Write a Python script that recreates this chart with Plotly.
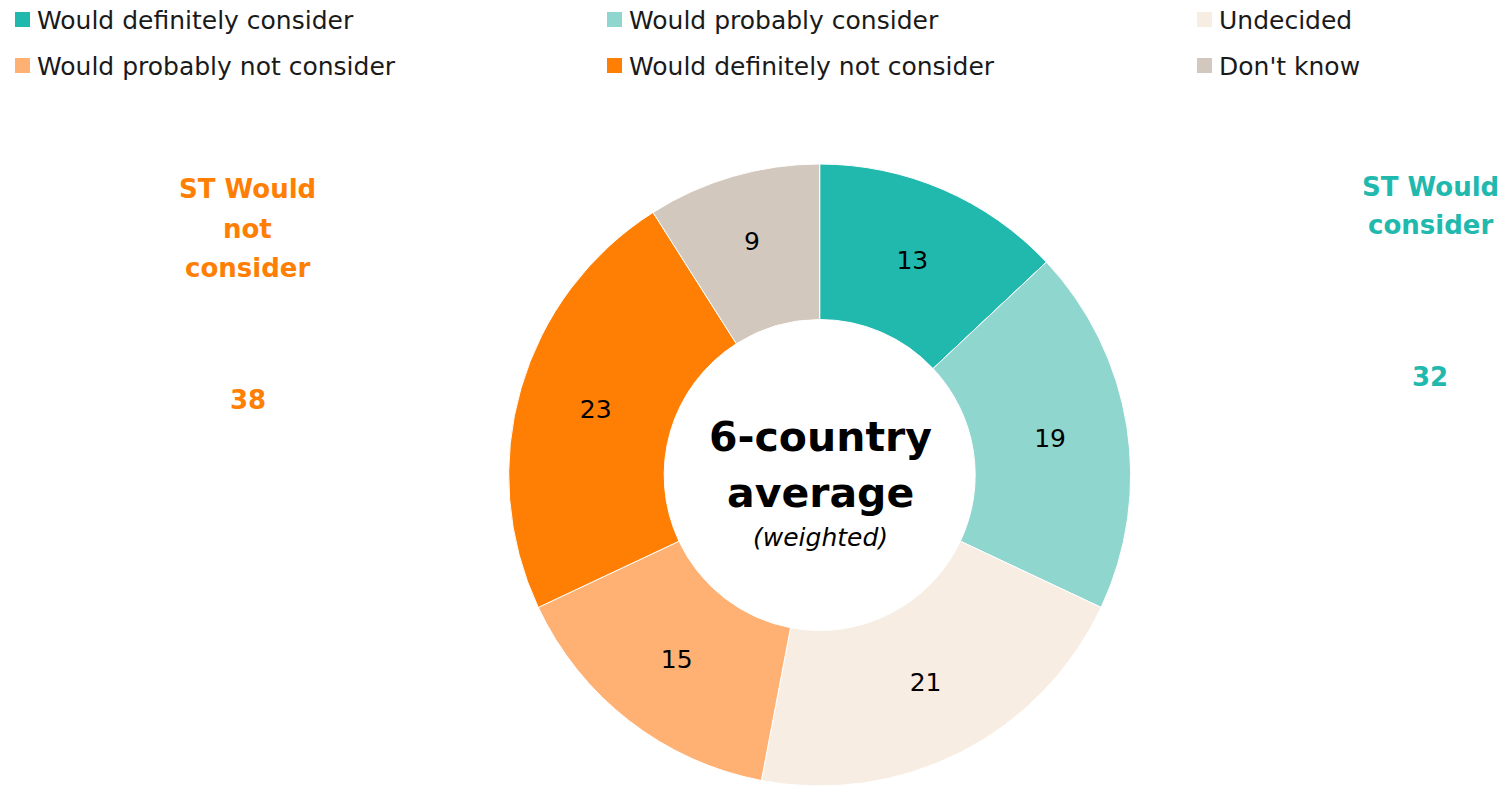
import plotly.graph_objects as go

labels = ["Would definitely consider", "Would probably consider", "Undecided",
          "Would probably not consider", "Would definitely not consider", "Don't know"]
values = [13, 19, 21, 15, 23, 9]
colors = ["#21B9AE", "#8FD6CF", "#F7EDE3", "#FFB174", "#FF7F05", "#D3C8BE"]

center_lines = ["6-country", "average"]
center_sub = "(weighted)"
left_lines = ["ST Would", "not", "consider"]
left_value = 38
right_lines = ["ST Would", "consider"]
right_value = 32

FONT = "DejaVu Sans"
W, H = 1504, 786

fig = go.Figure()
fig.add_trace(go.Pie(
    labels=labels, values=values, hole=0.5, sort=False, direction="clockwise",
    rotation=0, marker=dict(colors=colors, line=dict(color="white", width=1)),
    text=[str(v) for v in values], textinfo="text", textposition="inside",
    insidetextorientation="horizontal",
    textfont=dict(family=FONT, size=25, color="black"),
    domain=dict(x=[0.245, 0.845], y=[0.0, 1 - 164 / H]),
    showlegend=False, hoverinfo="label+value",
))

annotations = []
shapes = []
# manual legend: 3 columns x 2 rows
col_x = [15, 607, 1197]
row_y = [20, 66]
for i, (lab, col) in enumerate(zip(labels, colors)):
    cx = col_x[i % 3]
    cy = row_y[i // 3]
    shapes.append(dict(type="rect", xref="paper", yref="paper",
                       x0=cx / W, x1=(cx + 15) / W,
                       y0=1 - (cy + 7) / H, y1=1 - (cy - 8) / H,
                       fillcolor=col, line=dict(width=0)))
    annotations.append(dict(text=lab, x=(cx + 20) / W, y=1 - cy / H, xref="paper", yref="paper",
                            xanchor="left", yanchor="middle", showarrow=False,
                            font=dict(family=FONT, size=25, color="#1a1a1a")))

# centre text
for txt, yy in zip(center_lines, [437, 493]):
    annotations.append(dict(text=f"<b>{txt}</b>", x=820 / W, y=1 - yy / H, xref="paper", yref="paper",
                            xanchor="center", yanchor="middle", showarrow=False,
                            font=dict(family=FONT, size=41, color="black")))
annotations.append(dict(text=f"<i>{center_sub}</i>", x=820 / W, y=1 - 537 / H, xref="paper", yref="paper",
                        xanchor="center", yanchor="middle", showarrow=False,
                        font=dict(family=FONT, size=25, color="black")))

# side labels
orange = "#FF7F05"
teal = "#21B9AE"
for txt, yy in zip(left_lines, [189, 229, 268]):
    annotations.append(dict(text=f"<b>{txt}</b>", x=248 / W, y=1 - yy / H, xref="paper", yref="paper",
                            xanchor="center", yanchor="middle", showarrow=False,
                            font=dict(family=FONT, size=26, color=orange)))
annotations.append(dict(text=f"<b>{left_value}</b>", x=248 / W, y=1 - 400 / H, xref="paper", yref="paper",
                        xanchor="center", yanchor="middle", showarrow=False,
                        font=dict(family=FONT, size=26, color=orange)))
for txt, yy in zip(right_lines, [187, 225]):
    annotations.append(dict(text=f"<b>{txt}</b>", x=1430 / W, y=1 - yy / H, xref="paper", yref="paper",
                            xanchor="center", yanchor="middle", showarrow=False,
                            font=dict(family=FONT, size=26, color=teal)))
annotations.append(dict(text=f"<b>{right_value}</b>", x=1430 / W, y=1 - 377 / H, xref="paper", yref="paper",
                        xanchor="center", yanchor="middle", showarrow=False,
                        font=dict(family=FONT, size=26, color=teal)))

fig.update_layout(
    width=W, height=H, margin=dict(l=0, r=0, t=0, b=0),
    paper_bgcolor="white", plot_bgcolor="white",
    annotations=annotations, shapes=shapes, showlegend=False,
)
fig.write_html("out.html", config={"displayModeBar": False},
               post_script="document.body.style.margin='0';document.body.style.overflow='hidden';")
